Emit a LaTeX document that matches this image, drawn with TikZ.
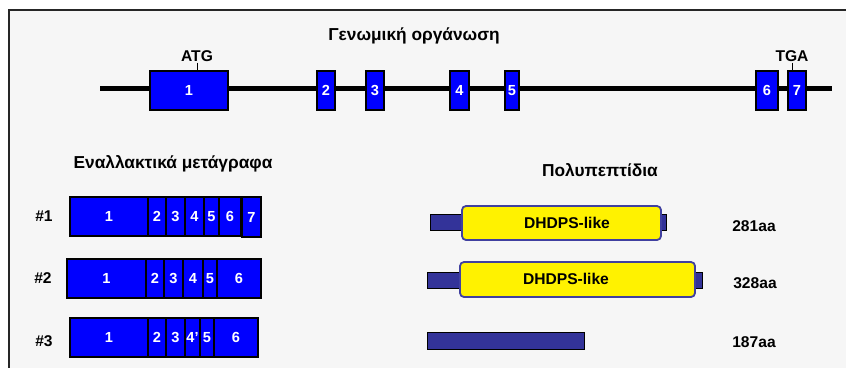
\documentclass[tikz,border=0pt]{standalone}
\usepackage{fontspec}
\setmainfont{Liberation Sans}
\usetikzlibrary{calc}
\definecolor{panelbg}{HTML}{F6F6F6}
\definecolor{exonblue}{HTML}{0000FF}
\definecolor{pepblue}{HTML}{333399}
\definecolor{domainedge}{HTML}{4040A0}
\tikzset{
  lbl/.style={font=\fontsize{15.6}{18}\selectfont\bfseries, inner sep=0pt, outer sep=0pt},
  heading/.style={font=\fontsize{17.3}{20}\selectfont\bfseries, inner sep=0pt, anchor=base},
  exon/.style={draw=black, line width=1.1pt, fill=exonblue, text=white,
    font=\fontsize{14.6}{16}\selectfont\bfseries, inner sep=0pt, outer sep=0pt,
    anchor=north west, minimum height=#1},
  exon/.default=39pt,
  pepbar/.style={draw=black, line width=1pt, fill=pepblue, inner sep=0pt, outer sep=0pt,
    anchor=north west},
  dombox/.style={draw=domainedge, line width=1.8pt, fill=yellow, rounded corners=4pt,
    inner sep=0pt, outer sep=0pt, anchor=north west},
}
\begin{document}
\begin{tikzpicture}[x=1pt, y=-1pt]
\useasboundingbox (0,0) rectangle (846,367);
% panel
\fill[white] (0,0) rectangle (846,367);
\fill[panelbg] (9,10) rectangle (850,370);
\draw[line width=1.3pt, black!85] (9,372) -- (9,10) -- (850,10);

% ---- genomic organisation ----
\node[heading] (gtitle) at (414,40) {Γενωμική οργάνωση};
\coordinate (gstart) at (100,88);
\coordinate (gend) at (832,88);
\draw[line width=5pt] (gstart) -- (gend);
\node[exon, minimum width=78pt] (g1) at (150,71) {1};
\node[exon, minimum width=18pt] (g2) at (317,71) {2};
\node[exon, minimum width=18pt] (g3) at (366,71) {3};
\node[exon, minimum width=19pt] (g4) at (450,71) {4};
\node[exon, minimum width=14pt] (g5) at (505,71) {5};
\node[exon, minimum width=22pt] (g6) at (756,71) {6};
\node[exon, minimum width=18pt] (g7) at (788,71) {7};
\node[lbl, anchor=base] (atg) at (197,61) {ATG};
\node[lbl, anchor=base] (tga) at (792,61) {TGA};
\draw[line width=0.8pt] ([yshift=-1.5pt]atg.south) -- (atg.south |- g1.north);
\draw[line width=0.8pt] ([yshift=-1.5pt]tga.south) -- (tga.south |- g7.north);

% ---- alternative transcripts ----
\node[heading] (ttitle) at (173,168) {Εναλλακτικά μετάγραφα};
\node[lbl] (r1) at (44,216) {\#1};
\node[lbl] (r2) at (43,278) {\#2};
\node[lbl] (r3) at (44,341) {\#3};

\node[exon, minimum width=78pt] (a1) at (70,197) {1};
\node[exon, minimum width=18pt] (a2) at (148,197) {2};
\node[exon, minimum width=19pt] (a3) at (166,197) {3};
\node[exon, minimum width=19pt] (a4) at (185,197) {4};
\node[exon, minimum width=15pt] (a5) at (204,197) {5};
\node[exon, minimum width=22pt] (a6) at (219,197) {6};
\node[exon, minimum width=19pt, minimum height=40pt] (a7) at (242,197) {7};

\node[exon, minimum width=79pt] (b1) at (67,259) {1};
\node[exon, minimum width=18pt] (b2) at (146,259) {2};
\node[exon, minimum width=19pt] (b3) at (164,259) {3};
\node[exon, minimum width=20pt] (b4) at (183,259) {4};
\node[exon, minimum width=14pt] (b5) at (203,259) {5};
\node[exon, minimum width=44pt] (b6) at (217,259) {6};

\node[exon, minimum width=78pt] (c1) at (70,318) {1};
\node[exon, minimum width=18pt] (c2) at (148,318) {2};
\node[exon, minimum width=19pt] (c3) at (166,318) {3};
\node[exon, minimum width=15pt] (c4) at (185,318) {4’};
\node[exon, minimum width=14pt] (c5) at (200,318) {5};
\node[exon, minimum width=44pt] (c6) at (214,318) {6};

% ---- polypeptides ----
\node[heading] (ptitle) at (600,176) {Πολυπεπτίδια};
\node[pepbar, minimum width=236pt, minimum height=16pt] (p1) at (430,214) {};
\node[dombox, minimum width=199pt, minimum height=34pt] (d1) at (462,206) {};
\node[lbl] (d1t) at (567,223) {DHDPS-like};
\node[lbl] (s1) at (754,226) {281aa};

\node[pepbar, minimum width=275pt, minimum height=16pt] (p2) at (427,272) {};
\node[dombox, minimum width=235pt, minimum height=35pt] (d2) at (460,262) {};
\node[lbl] (d2t) at (566,279) {DHDPS-like};
\node[lbl] (s2) at (755,283) {328aa};

\node[pepbar, minimum width=157pt, minimum height=17pt] (p3) at (427,332) {};
\node[lbl] (s3) at (754,342) {187aa};
\end{tikzpicture}
\end{document}
